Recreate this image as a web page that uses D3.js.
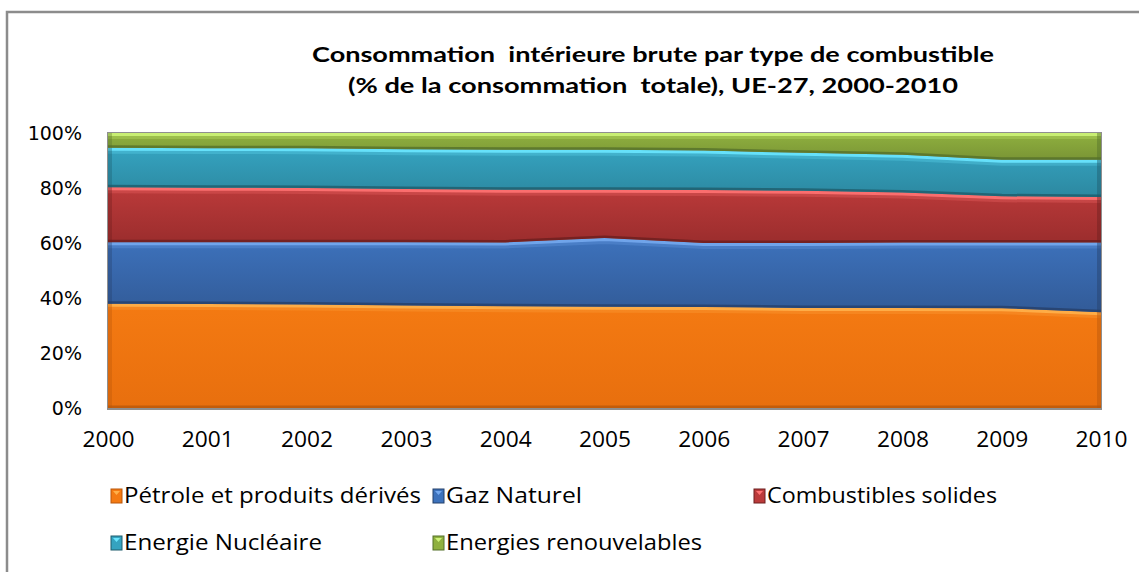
<!DOCTYPE html>
<html>
<head>
<meta charset="utf-8">
<script src="https://cdn.jsdelivr.net/npm/d3@7"></script>
<style>
  body { margin: 0; background: #fff; }
  svg { display: block; }
</style>
</head>
<body>
<div id="chart"></div>
<script>
// data (% of gross inland consumption)
const years = ["2000", "2001", "2002", "2003", "2004", "2005", "2006", "2007", "2008", "2009", "2010"];
const petrole = [37.9, 37.8, 37.6, 37.3, 37.0, 36.8, 36.7, 36.4, 36.4, 36.3, 34.8];
const gaz = [22.4, 22.5, 22.7, 23.0, 23.2, 25.0, 23.3, 23.6, 23.8, 23.9, 25.4];
const solides = [20.0, 19.8, 19.7, 19.3, 19.2, 17.6, 19.3, 19.0, 18.2, 16.8, 16.5];
const nucleaire = [14.3, 14.4, 14.5, 14.5, 14.5, 14.5, 14.3, 13.8, 13.7, 13.3, 13.6];
const renouvelables = [5.4, 5.5, 5.5, 5.9, 6.1, 6.1, 6.4, 7.2, 7.9, 9.7, 9.7];
const seriesNames = ["Pétrole et produits dérivés", "Gaz Naturel", "Combustibles solides", "Energie Nucléaire", "Energies renouvelables"];
const yTicks = [0, 0.2, 0.4, 0.6, 0.8, 1];

const width = 1139;
const height = 572;
const plot = { left: 108, right: 1101, top: 133, bottom: 408 };

// fill (top, bottom), highlight edge, dark edge
const palette = [
  { top: "#f47a12", bottom: "#e86f0e", hi: "#ffb04a", lo: "#b9570a" },
  { top: "#3d72bc", bottom: "#325b98", hi: "#74a8ee", lo: "#25406a" },
  { top: "#bb3a3a", bottom: "#9b2d2d", hi: "#ff7272", lo: "#6c1e1e" },
  { top: "#35a3c0", bottom: "#2c88a0", hi: "#6ae6ff", lo: "#1e5c6c" },
  { top: "#8fb03f", bottom: "#7a9535", hi: "#cdf378", lo: "#55702a" }
];

const series = [petrole, gaz, solides, nucleaire, renouvelables];
const table = years.map((y, i) => {
  const row = { year: y };
  seriesNames.forEach((n, k) => row[n] = series[k][i] / 100);
  return row;
});
const stacked = d3.stack().keys(seriesNames)(table);

const svg = d3.select("#chart")
  .append("svg")
  .attr("width", width)
  .attr("height", height);

const defs = svg.append("defs");

// outer chart frame
svg.append("rect")
  .attr("x", 7)
  .attr("y", 12)
  .attr("width", 1150)
  .attr("height", 580)
  .attr("fill", "none")
  .attr("stroke", "#8c8c8c")
  .attr("stroke-width", 2.5);

const x = d3.scalePoint()
  .domain(years)
  .range([plot.left, plot.right]);

const y = d3.scaleLinear()
  .domain([0, 1])
  .range([plot.bottom, plot.top]);

const area = d3.area()
  .x(d => x(d.data.year))
  .y0(d => y(d[0]))
  .y1(d => y(d[1]));

const topLine = d3.line()
  .x(d => x(d.data.year))
  .y(d => y(d[1]));

const bottomLine = d3.line()
  .x(d => x(d.data.year))
  .y(d => y(d[0]));

// plot background border
svg.append("rect")
  .attr("x", plot.left - 1)
  .attr("y", plot.top - 1)
  .attr("width", plot.right - plot.left + 2)
  .attr("height", plot.bottom - plot.top + 3)
  .attr("fill", "#8f8f8f");

stacked.forEach((s, k) => {
  const c = palette[k];
  const grad = defs.append("linearGradient")
    .attr("id", "g" + k)
    .attr("x1", 0).attr("y1", 0).attr("x2", 0).attr("y2", 1);
  grad.append("stop").attr("offset", "0%").attr("stop-color", c.top);
  grad.append("stop").attr("offset", "100%").attr("stop-color", c.bottom);

  defs.append("clipPath")
    .attr("id", "clip" + k)
    .append("path")
    .attr("d", area(s));

  const band = svg.append("g").attr("clip-path", `url(#clip${k})`);

  band.append("path")
    .attr("d", area(s))
    .attr("fill", `url(#g${k})`);

  // bevel: light top edge, dark bottom edge, shaded left/right edges
  band.append("path")
    .attr("d", topLine(s))
    .attr("fill", "none")
    .attr("stroke", c.hi)
    .attr("stroke-width", 6)
    .attr("opacity", 0.9);

  band.append("path")
    .attr("d", topLine(s))
    .attr("fill", "none")
    .attr("stroke", c.hi)
    .attr("stroke-width", 12)
    .attr("opacity", 0.25);

  band.append("path")
    .attr("d", bottomLine(s))
    .attr("fill", "none")
    .attr("stroke", c.lo)
    .attr("stroke-width", 5)
    .attr("opacity", 0.8);

  band.append("rect")
    .attr("x", plot.left)
    .attr("y", plot.top)
    .attr("width", 4)
    .attr("height", plot.bottom - plot.top)
    .attr("fill", c.lo)
    .attr("opacity", 0.35);

  band.append("rect")
    .attr("x", plot.right - 4)
    .attr("y", plot.top)
    .attr("width", 4)
    .attr("height", plot.bottom - plot.top)
    .attr("fill", c.lo)
    .attr("opacity", 0.45);
});

// y axis labels
svg.append("g")
  .attr("transform", `translate(${plot.left},0)`)
  .call(d3.axisLeft(y).tickValues(yTicks).tickFormat(d3.format(".0%")).tickSize(0).tickPadding(26))
  .call(g => g.select(".domain").remove())
  .selectAll("text")
  .attr("font-family", "'DejaVu Sans', Verdana, sans-serif")
  .attr("font-size", 19)
  .attr("fill", "#000");

// x axis labels
svg.append("g")
  .attr("transform", `translate(0,${plot.bottom})`)
  .call(d3.axisBottom(x).tickSize(0).tickPadding(24))
  .call(g => g.select(".domain").remove())
  .selectAll("text")
  .attr("font-family", "'Open Sans', Lato, sans-serif")
  .attr("font-size", 21)
  .attr("textLength", 52)
  .attr("lengthAdjust", "spacingAndGlyphs")
  .attr("fill", "#000");

// title
const titleLines = [
  "Consommation  intérieure brute par type de combustible",
  "(% de la consommation  totale), UE-27, 2000-2010"
];
const titleWidths = [682, 610];
svg.append("g")
  .selectAll("text")
  .data(titleLines)
  .enter()
  .append("text")
  .attr("x", 653)
  .attr("y", (d, i) => 62 + i * 31)
  .attr("text-anchor", "middle")
  .attr("font-family", "Lato, 'Open Sans', sans-serif")
  .attr("font-weight", "bold")
  .attr("font-size", 21)
  .attr("textLength", (d, i) => titleWidths[i])
  .attr("lengthAdjust", "spacingAndGlyphs")
  .attr("xml:space", "preserve")
  .style("white-space", "pre")
  .text(d => d);

// legend
const legendPos = [
  { x: 124, y: 503, w: 297 },
  { x: 446, y: 503, w: 136 },
  { x: 767, y: 503, w: 230 },
  { x: 124, y: 550, w: 198 },
  { x: 446, y: 550, w: 256 }
];

const legend = svg.append("g")
  .selectAll("g")
  .data(seriesNames)
  .enter()
  .append("g")
  .attr("transform", (d, i) => `translate(${legendPos[i].x},${legendPos[i].y})`);

legend.append("rect")
  .attr("x", -13)
  .attr("y", -14)
  .attr("width", 11)
  .attr("height", 14)
  .attr("fill", (d, i) => palette[i].top)
  .attr("stroke", (d, i) => palette[i].lo)
  .attr("stroke-width", 1);

legend.append("path")
  .attr("d", "M-11,-12 L-4,-12 L-7.5,-8 Z")
  .attr("fill", (d, i) => palette[i].hi);

legend.append("text")
  .attr("x", 0)
  .attr("y", 0)
  .attr("font-family", "'Open Sans', Lato, sans-serif")
  .attr("font-size", 21)
  .attr("textLength", (d, i) => legendPos[i].w)
  .attr("lengthAdjust", "spacingAndGlyphs")
  .attr("fill", "#000")
  .text(d => d);
</script>
</body>
</html>
